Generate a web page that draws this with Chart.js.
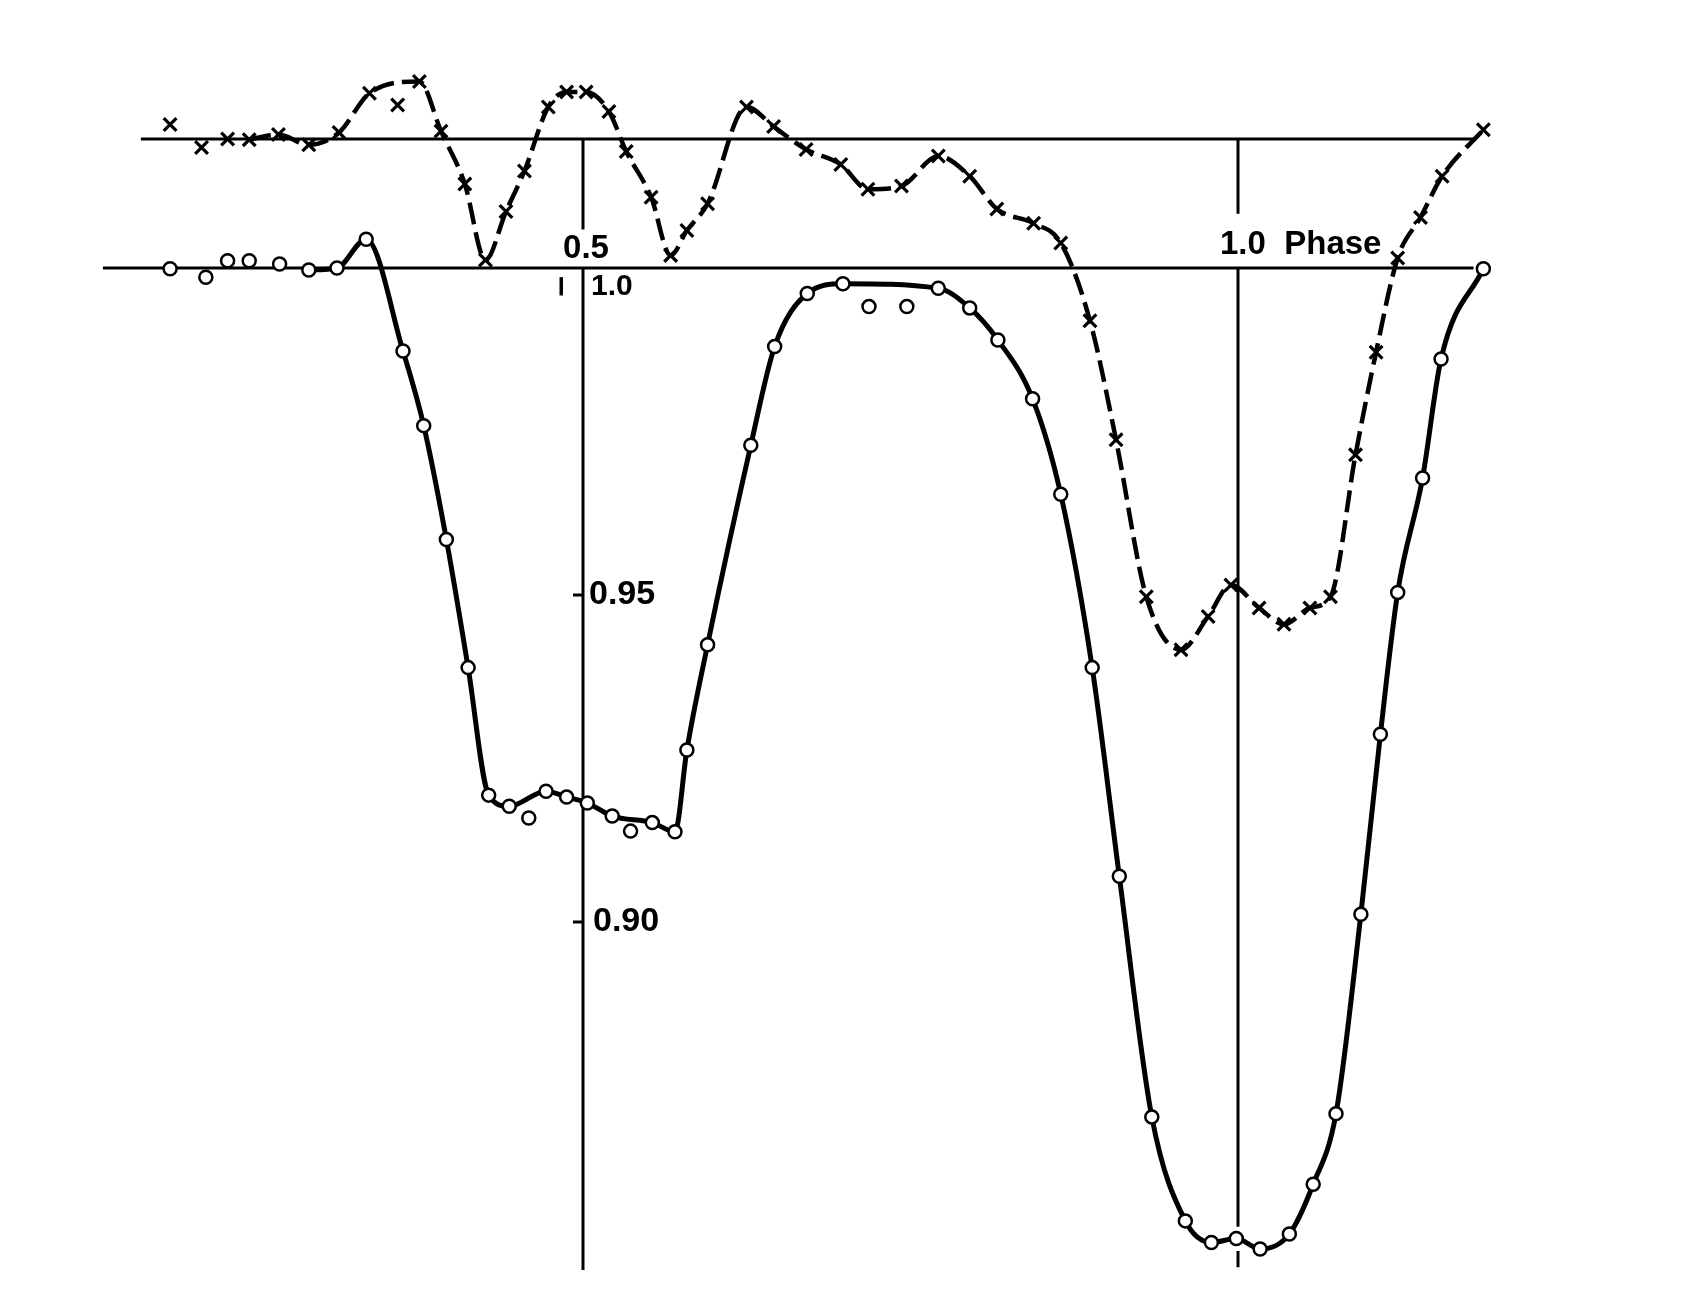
<!DOCTYPE html>
<html>
<head>
<meta charset="utf-8">
<script src="https://cdn.jsdelivr.net/npm/chart.js@4"></script>
<style>
  body { margin: 0; background: #fff; }
  #lc { display: block; }
</style>
</head>
<body>
<canvas id="lc" width="1699" height="1298"></canvas>
<script>
// open circles (lower light curve)
var circlePhase = [0.1848,0.2121,0.2287,0.2452,0.2684,0.2907,0.3122,0.3345,0.3626,0.3784,0.3957,0.4123,0.4280,0.4437,0.4586,0.4718,0.4875,0.5033,0.5223,0.5363,0.5529,0.5702,0.5793,0.5951,0.6281,0.6463,0.6712,0.6984,0.7183,0.7472,0.7712,0.7952,0.8167,0.8432,0.8647,0.8887,0.9094,0.9342,0.9598,0.9797,0.9987,1.0169,1.0392,1.0574,1.0748,1.0938,1.1087,1.1219,1.1409,1.1550,1.1873];
var circleFlux = [0.9999,0.9986,1.0011,1.0011,1.0006,0.9997,1.0000,1.0044,0.9873,0.9759,0.9585,0.9389,0.9194,0.9177,0.9159,0.9200,0.9191,0.9182,0.9162,0.9139,0.9152,0.9138,0.9263,0.9424,0.9729,0.9880,0.9961,0.9976,0.9941,0.9941,0.9969,0.9939,0.9890,0.9800,0.9654,0.9389,0.9070,0.8702,0.8543,0.8510,0.8516,0.8500,0.8523,0.8599,0.8707,0.9012,0.9287,0.9504,0.9679,0.9861,0.9999];
var circleOff = [14, 19, 28, 29];   // points the drawn curve leaves out
var circleStart = 5;

// crosses (upper light curve, own zero line)
var crossPhase = [0.1848,0.2088,0.2287,0.2452,0.2675,0.2907,0.3138,0.3370,0.3585,0.3751,0.3916,0.4098,0.4255,0.4412,0.4553,0.4735,0.4875,0.5024,0.5198,0.5330,0.5520,0.5669,0.5793,0.5951,0.6248,0.6455,0.6703,0.6968,0.7175,0.7431,0.7712,0.7952,0.8159,0.8440,0.8647,0.8870,0.9069,0.9300,0.9565,0.9772,0.9946,1.0161,1.0351,1.0549,1.0706,1.0897,1.1054,1.1219,1.1393,1.1558,1.1873];
var crossFlux = [1.0022,0.9987,1.0000,0.9999,1.0007,0.9991,1.0010,1.0070,1.0052,1.0088,1.0012,0.9931,0.9815,0.9889,0.9951,1.0049,1.0072,1.0072,1.0042,0.9981,0.9911,0.9822,0.9860,0.9901,1.0049,1.0019,0.9984,0.9961,0.9923,0.9928,0.9974,0.9943,0.9893,0.9871,0.9841,0.9722,0.9540,0.9300,0.9219,0.9270,0.9318,0.9283,0.9258,0.9283,0.9300,0.9517,0.9674,0.9818,0.9880,0.9943,1.0014];
var crossOff = [8];
var crossStart = 3;

// zero lines and axes
var lowerLine = [0.1335, 1.1798];
var upperLine = [0.1625, 1.1798];
var upperInLower = 1.0197;   // upper zero line in lower-curve units
var axisBottom = 0.8468;
var fluxTicks = [0.95, 0.90];
var fluxLabels = ['0.95', '0.90'];

function pts(px, py) {
  var out = [];
  for (var i = 0; i < px.length; i++) out.push({x: px[i], y: py[i]});
  return out;
}
function curve(px, py, start, off) {
  var out = [];
  for (var i = start; i < px.length; i++) {
    if (off.indexOf(i) >= 0) continue;
    out.push({x: px[i], y: py[i]});
  }
  return out;
}
function seg(x0, y0, x1, y1, axis) {
  return {
    data: [{x: x0, y: y0}, {x: x1, y: y1}],
    showLine: true, borderColor: '#000', borderWidth: 3,
    pointRadius: 0, yAxisID: axis || 'y', order: 2
  };
}

var labels = {
  id: 'labels',
  afterDatasetsDraw: function(chart) {
    var ctx = chart.ctx;
    var x = chart.scales.x, y = chart.scales.y;
    var ax = x.getPixelForValue(0.5);
    ctx.save();
    ctx.strokeStyle = '#000';
    ctx.fillStyle = '#000';
    ctx.lineWidth = 3;
    ctx.textBaseline = 'middle';
    for (var i = 0; i < fluxTicks.length; i++) {
      var py = y.getPixelForValue(fluxTicks[i]);
      ctx.beginPath();
      ctx.moveTo(ax - 10, py);
      ctx.lineTo(ax, py);
      ctx.stroke();
      ctx.font = 'bold 34px "Liberation Sans", Arial, sans-serif';
      ctx.textAlign = 'left';
      ctx.fillText(fluxLabels[i], ax + 6 + i * 4, py);
    }
    // small mark left of the axis under the zero line
    ctx.beginPath();
    ctx.lineWidth = 3.5;
    ctx.moveTo(x.getPixelForValue(0.4834), y.getPixelForValue(0.9986));
    ctx.lineTo(x.getPixelForValue(0.4834), y.getPixelForValue(0.9958));
    ctx.stroke();

    var y0 = y.getPixelForValue(1.0);
    ctx.font = 'bold 33px "Liberation Sans", Arial, sans-serif';
    ctx.textAlign = 'center';
    ctx.fillText('0.5', ax + 3, y0 - 19);
    ctx.textAlign = 'left';
    ctx.font = 'bold 30px "Liberation Sans", Arial, sans-serif';
    ctx.fillText('1.0', ax + 8, y0 + 19);
    ctx.font = 'bold 33px "Liberation Sans", Arial, sans-serif';
    ctx.fillText('1.0  Phase', x.getPixelForValue(1.0) - 18, y0 - 23);
    ctx.restore();
  }
};

new Chart(document.getElementById('lc'), {
  type: 'scatter',
  data: {
    datasets: [
      {
        data: pts(circlePhase, circleFlux),
        pointStyle: 'circle', pointRadius: 6.5, borderWidth: 2.5,
        borderColor: '#000', backgroundColor: '#fff', order: 0
      },
      {
        data: pts(crossPhase, crossFlux), yAxisID: 'y2',
        pointStyle: 'crossRot', pointRadius: 9, borderWidth: 3.2,
        borderColor: '#000', backgroundColor: '#000', order: 0
      },
      {
        data: curve(circlePhase, circleFlux, circleStart, circleOff),
        showLine: true, borderColor: '#000', borderWidth: 5,
        cubicInterpolationMode: 'monotone', pointRadius: 0, order: 1
      },
      {
        data: curve(crossPhase, crossFlux, crossStart, crossOff), yAxisID: 'y2',
        showLine: true, borderColor: '#000', borderWidth: 4.5, borderDash: [22, 8],
        cubicInterpolationMode: 'monotone', pointRadius: 0, order: 1
      },
      seg(lowerLine[0], 1.0, lowerLine[1], 1.0),
      seg(upperLine[0], 1.0, upperLine[1], 1.0, 'y2'),
      seg(0.5, upperInLower, 0.5, 1.0059),
      seg(0.5, 1.0, 0.5, axisBottom),
      seg(1.0, upperInLower, 1.0, 1.0083),
      seg(1.0, 1.0, 1.0, 0.8534),
      seg(1.0, 0.8497, 1.0, 0.8472)
    ]
  },
  options: {
    responsive: false,
    animation: false,
    devicePixelRatio: 1,
    layout: { padding: 0, autoPadding: false },
    plugins: { legend: { display: false }, tooltip: { enabled: false } },
    scales: {
      x: { type: 'linear', min: 0.05496, max: 1.35191, display: false },
      y: { type: 'linear', min: 0.84251, max: 1.04098, display: false },
      y2: { type: 'linear', min: 0.82278, max: 1.02125, display: false }
    }
  },
  plugins: [labels]
});
</script>
</body>
</html>
